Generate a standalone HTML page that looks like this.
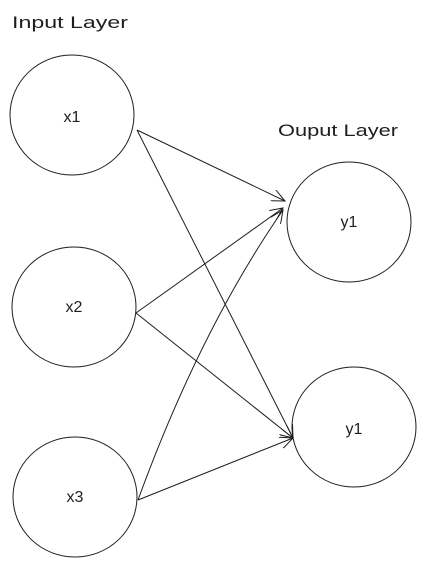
<!DOCTYPE html>
<html><head><style>html,body{margin:0;padding:0;background:#fff;width:426px;height:567px;overflow:hidden}</style></head>
<body>
<svg width="426" height="567" xmlns="http://www.w3.org/2000/svg" font-family="'Comic Sans MS','Liberation Sans',sans-serif">
<defs><marker id="a" markerWidth="14" markerHeight="12" refX="13" refY="6" orient="auto" markerUnits="userSpaceOnUse"><path d="M0,0 L13,6 L0,12" fill="none" stroke="#1e1e1e" stroke-width="1"/></marker></defs>
<g fill="none" stroke="#1e1e1e" stroke-width="1">
<ellipse cx="72" cy="115" rx="62" ry="60"/>
<ellipse cx="74" cy="307" rx="62" ry="60"/>
<ellipse cx="75" cy="497" rx="62" ry="60"/>
<ellipse cx="349" cy="222" rx="62" ry="60"/>
<ellipse cx="354" cy="427" rx="62" ry="60"/>
<line x1="137" y1="130" x2="285" y2="201" marker-end="url(#a)"/>
<line x1="137" y1="130" x2="293" y2="438" marker-end="url(#a)"/>
<line x1="136" y1="313" x2="283" y2="208" marker-end="url(#a)"/>
<line x1="136" y1="313" x2="293" y2="438" marker-end="url(#a)"/>
<path d="M138,500 Q200,330 283,210" marker-end="url(#a)"/>
<line x1="138" y1="500" x2="293" y2="438" marker-end="url(#a)"/>
</g>
<g font-size="16" fill="#1e1e1e" text-anchor="middle">
<text x="72" y="122">x1</text>
<text x="74" y="312">x2</text>
<text x="75" y="502">x3</text>
<text x="349" y="227">y1</text>
<text x="354" y="434">y1</text>
</g>
<g font-size="17" fill="#1e1e1e">
<text x="12" y="28" textLength="116" lengthAdjust="spacingAndGlyphs">Input Layer</text>
<text x="278" y="136" textLength="120" lengthAdjust="spacingAndGlyphs">Ouput Layer</text>
</g>
</svg>
</body></html>
